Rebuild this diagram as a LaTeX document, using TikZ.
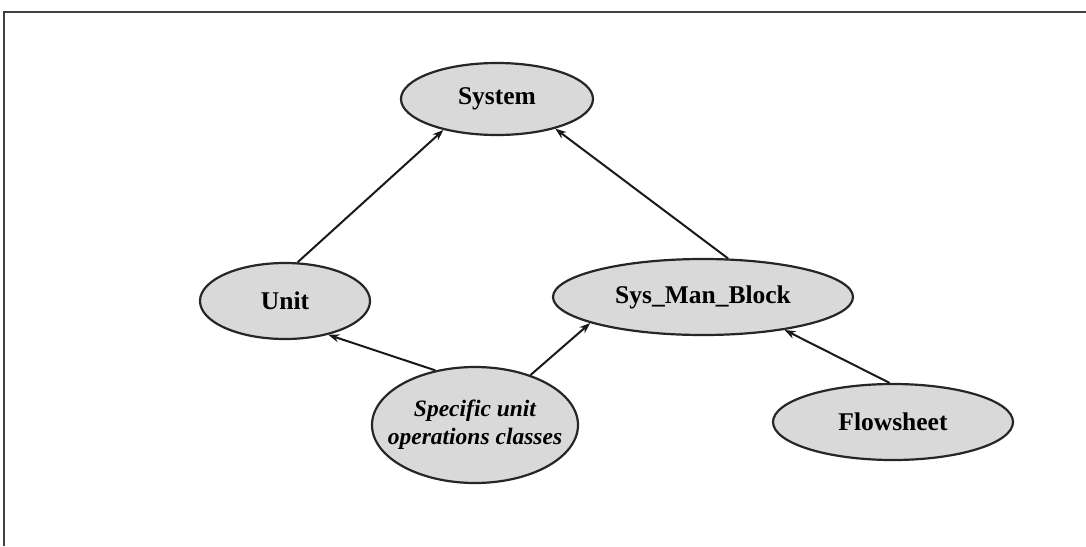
\documentclass[tikz,border=0pt]{standalone}
\usepackage{fontspec}
\setmainfont{Liberation Serif}
\usetikzlibrary{shapes.geometric,arrows.meta}
\begin{document}
\begin{tikzpicture}[x=1pt,y=-1pt,
  cls/.style={ellipse,draw=black!85,line width=2.2pt,fill=black!15,
    inner sep=0pt,font=\fontsize{25.5}{28}\selectfont\bfseries,align=center},
  inherit/.style={draw=black!90,line width=2pt,-{Stealth[length=11pt,width=8pt]}}]
  \useasboundingbox (0,0) rectangle (1086,546);
  % frame
  \draw[line width=1.8pt,black!75] (4,546) -- (4,12) -- (1086,12);
  % classes
  \node[cls,minimum width=192pt,minimum height=72pt] (system) at (497,99) {System};
  \node[cls,minimum width=170pt,minimum height=76pt] (unit) at (285,301) {Unit};
  \node[cls,minimum width=300pt,minimum height=76pt] (smb) at (703,297) {Sys\_Man\_Block};
  \node[cls,inner xsep=-24pt,minimum width=206pt,minimum height=116pt,
        font=\fontsize{23.5}{28}\selectfont\bfseries\itshape] (spec) at (475,425)
        {Specific unit\\operations classes};
  \node[cls,minimum width=240pt,minimum height=76pt] (flow) at (893,422) {Flowsheet};
  % inheritance arrows
  \draw[inherit] (unit.72) -- (system.210);
  \draw[inherit] (smb.57) -- (system.333);
  \draw[inherit] (spec.126) -- (unit.-38);
  \draw[inherit] (spec.42) -- (smb.193);
  \draw[inherit] (flow.95) -- (smb.-22);
\end{tikzpicture}
\end{document}
